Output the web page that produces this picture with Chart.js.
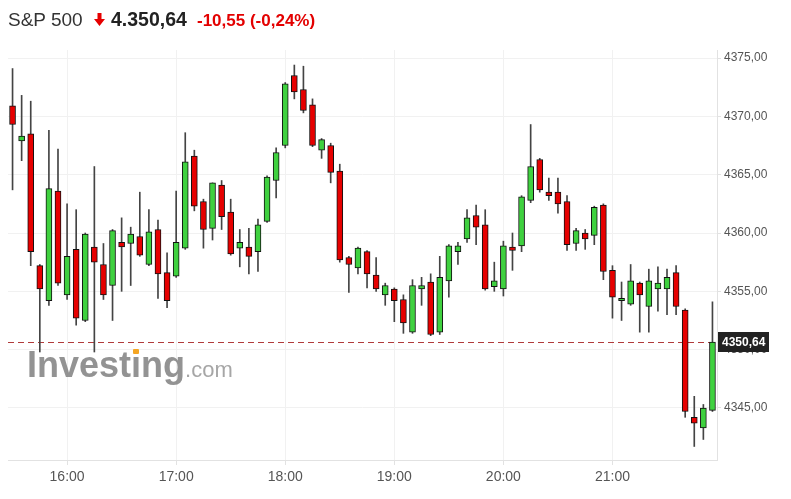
<!DOCTYPE html>
<html>
<head>
<meta charset="utf-8">
<script src="https://cdn.jsdelivr.net/npm/chart.js@4.4.1/dist/chart.umd.min.js"></script>
<style>
  html, body { margin: 0; padding: 0; background: #fff; }
  #wrap { position: relative; width: 791px; height: 499px; overflow: hidden; }
  canvas { position: absolute; left: 0; top: 0; }
  .hd { position: absolute; line-height: 1; white-space: nowrap; font-family: "Liberation Sans", Arial, sans-serif; }
  .wm { position: absolute; line-height: 1; white-space: nowrap; font-family: "Liberation Sans", Arial, sans-serif; pointer-events: none; }
</style>
</head>
<body>
<div id="wrap">
  <canvas id="c" width="791" height="499"></canvas>
  <div class="hd" style="left:8px; top:10px; font-size:19px; color:#333;">S&amp;P 500</div>
  <svg style="position:absolute; left:94px; top:13px;" width="11" height="13" viewBox="0 0 11 13">
    <polygon points="3.5,0 7.5,0 7.5,6 11,6 5.5,13 0,6 3.5,6" fill="#e60000"/>
  </svg>
  <div class="hd" style="left:111px; top:9.5px; font-size:19.5px; font-weight:bold; color:#222;">4.350,64</div>
  <div class="hd" style="left:197px; top:11.6px; font-size:17px; font-weight:bold; color:#e30000;">-10,55 (-0,24%)</div>
  <div class="wm" style="left:27px; top:347px;"><span style="font-size:36px; font-weight:bold; color:rgba(128,128,128,0.85);">Invest</span><span style="position:relative; font-size:36px; font-weight:bold; color:rgba(128,128,128,0.85);">ı<span style="position:absolute; left:50%; top:5px; width:6px; height:5px; margin-left:-3px; background:#f5a623; border-radius:1px;"></span></span><span style="font-size:36px; font-weight:bold; color:rgba(128,128,128,0.85);">ng</span><span style="font-size:22px; color:rgba(150,150,150,0.85);">.com</span></div>
</div>
<script>
// ---- Data (5-minute candles, S&P 500) ----
const times = [
  "15:30","15:35","15:40","15:45","15:50","15:55",
  "16:00","16:05","16:10","16:15","16:20","16:25","16:30","16:35","16:40","16:45","16:50","16:55",
  "17:00","17:05","17:10","17:15","17:20","17:25","17:30","17:35","17:40","17:45","17:50","17:55",
  "18:00","18:05","18:10","18:15","18:20","18:25","18:30","18:35","18:40","18:45","18:50","18:55",
  "19:00","19:05","19:10","19:15","19:20","19:25","19:30","19:35","19:40","19:45","19:50","19:55",
  "20:00","20:05","20:10","20:15","20:20","20:25","20:30","20:35","20:40","20:45","20:50","20:55",
  "21:00","21:05","21:10","21:15","21:20","21:25","21:30","21:35","21:40","21:45","21:50","21:55"
];
const opens = [
  4370.9,4367.9,4368.5,4357.2,4354.2,4363.6,4354.7,4358.6,4352.5,4358.8,
  4357.3,4355.5,4359.2,4359.1,4359.7,4357.3,4360.3,4356.6,4356.3,4358.7,
  4366.6,4362.7,4360.4,4364.1,4361.8,4358.7,4358.8,4358.4,4361.0,4364.5,
  4367.5,4373.5,4372.3,4371.0,4367.1,4367.5,4365.3,4357.9,4357.0,4358.4,
  4356.4,4354.7,4355.2,4354.3,4351.5,4355.2,4355.8,4351.5,4355.9,4358.4,
  4359.5,4361.5,4360.7,4355.4,4355.2,4358.8,4358.9,4362.8,4366.3,4363.5,
  4363.5,4362.7,4359.1,4360.0,4359.8,4362.4,4356.8,4354.2,4353.9,4355.7,
  4353.7,4355.2,4355.2,4356.6,4353.4,4344.2,4343.3,4344.8
];
const highs = [
  4374.1,4371.8,4371.3,4357.3,4368.8,4367.2,4362.5,4362.0,4360.0,4365.7,
  4359.1,4360.3,4361.3,4360.5,4363.5,4362.0,4361.1,4358.3,4363.6,4368.6,
  4367.1,4362.9,4364.3,4364.5,4362.9,4360.3,4360.4,4361.2,4364.9,4367.3,
  4372.9,4374.4,4374.3,4371.5,4368.1,4367.7,4365.9,4358.0,4358.8,4358.5,
  4357.9,4355.7,4355.3,4354.7,4356.0,4356.2,4356.5,4358.0,4359.0,4359.2,
  4362.0,4362.4,4362.0,4357.5,4359.3,4360.0,4363.2,4369.3,4366.4,4364.7,
  4364.7,4363.2,4360.4,4360.3,4362.3,4362.5,4357.2,4355.8,4357.3,4355.8,
  4356.9,4357.1,4356.9,4357.2,4353.5,4346.0,4345.3,4354.1
];
const lows = [
  4363.7,4366.2,4357.2,4349.8,4353.8,4355.5,4354.3,4352.1,4352.4,4349.8,
  4354.3,4352.5,4355.0,4355.5,4358.0,4357.2,4354.4,4353.6,4356.2,4358.6,
  4361.9,4358.7,4359.4,4360.3,4358.1,4357.1,4356.5,4356.7,4360.9,4363.0,
  4367.3,4371.5,4370.3,4367.4,4366.4,4364.3,4357.5,4354.9,4356.5,4355.3,
  4355.0,4353.8,4352.4,4351.4,4351.4,4353.8,4351.2,4351.3,4354.5,4357.3,
  4359.2,4359.0,4355.1,4355.0,4354.6,4356.8,4358.4,4362.6,4363.5,4362.8,
  4361.7,4358.5,4358.5,4358.6,4359.0,4356.0,4352.7,4352.5,4353.8,4351.5,
  4351.5,4353.3,4353.0,4353.0,4344.2,4341.7,4342.3,4344.7
];
const closes = [
  4369.3,4368.3,4358.4,4355.2,4363.8,4355.7,4358.0,4352.7,4359.9,4357.5,
  4354.7,4360.2,4358.8,4359.9,4358.1,4360.1,4356.5,4354.2,4359.2,4366.1,
  4362.3,4360.3,4364.3,4361.4,4358.2,4359.2,4358.0,4360.7,4364.8,4366.9,
  4372.8,4372.1,4370.5,4367.5,4368.0,4365.2,4357.7,4357.3,4358.7,4356.5,
  4355.2,4355.5,4354.2,4352.3,4355.5,4355.5,4351.3,4356.2,4358.9,4358.9,
  4361.3,4360.5,4355.2,4355.9,4358.9,4358.5,4363.1,4365.7,4363.7,4363.2,
  4362.5,4359.0,4360.2,4359.5,4362.2,4356.7,4354.5,4354.4,4355.9,4354.7,
  4355.9,4355.7,4356.2,4353.7,4344.7,4343.7,4345.0,4350.64
];
const yTickValues = [4345, 4350, 4355, 4360, 4365, 4370, 4375];
const lastPrice = 4350.64;
const lastPriceLabel = "4350,64";

// ---- Build datasets ----
const UP = '#3fd13f', DOWN = '#e60000';
const bodyData = opens.map((o, i) => [o, closes[i]]);
const wickData = lows.map((l, i) => [l, highs[i]]);
const bodyColors = opens.map((o, i) => closes[i] >= o ? UP : DOWN);

const fmt = v => Number(v).toFixed(2).replace('.', ',');

const overlay = {
  id: 'overlay',
  beforeDatasetsDraw(chart) {
    const { ctx, chartArea, scales } = chart;
    const y = Math.round(scales.y.getPixelForValue(lastPrice)) + 0.5;
    ctx.save();
    ctx.strokeStyle = '#b03a3a';
    ctx.lineWidth = 1;
    ctx.setLineDash([6, 4]);
    ctx.beginPath();
    ctx.moveTo(chartArea.left, y);
    ctx.lineTo(chartArea.right, y);
    ctx.stroke();
    ctx.restore();
  },
  afterDraw(chart) {
    const { ctx, chartArea, scales } = chart;
    const y = Math.round(scales.y.getPixelForValue(lastPrice));
    ctx.save();
    ctx.fillStyle = '#222';
    ctx.fillRect(chartArea.right + 1, y - 10, 51, 20);
    ctx.fillStyle = '#fff';
    ctx.font = 'bold 12px "Liberation Sans", Arial, sans-serif';
    ctx.textBaseline = 'middle';
    ctx.textAlign = 'left';
    ctx.fillText(lastPriceLabel, chartArea.right + 5, y + 0.5);
    ctx.restore();
  }
};

new Chart(document.getElementById('c'), {
  type: 'bar',
  data: {
    labels: times,
    datasets: [
      {
        label: 'wick',
        data: wickData,
        backgroundColor: '#444',
        borderWidth: 0,
        barThickness: 1,
        grouped: false,
        order: 2
      },
      {
        label: 'body',
        data: bodyData,
        backgroundColor: bodyColors,
        borderColor: '#111',
        borderWidth: 1,
        borderSkipped: false,
        barThickness: 6,
        grouped: false,
        order: 1
      }
    ]
  },
  options: {
    responsive: false,
    devicePixelRatio: 1,
    animation: false,
    events: [],
    layout: { padding: { top: 50, left: 8, right: 0, bottom: 0 } },
    plugins: { legend: { display: false }, tooltip: { enabled: false } },
    scales: {
      x: {
        type: 'category',
        offset: true,
        grid: { offset: false, color: '#f1f1f1', tickLength: 5, tickColor: '#e2e2e2' },
        border: { display: true, color: '#e2e2e2' },
        afterBuildTicks(scale) {
          scale.ticks = scale.ticks.filter(t => times[t.value].endsWith(':00'));
        },
        afterFit(scale) { scale.height = 39; },
        ticks: {
          autoSkip: false,
          maxRotation: 0,
          color: '#555',
          padding: 4,
          font: { family: '"Liberation Sans", Arial, sans-serif', size: 14 },
          callback(value) { return times[value]; }
        }
      },
      y: {
        position: 'right',
        min: 4340.54,
        max: 4375.69,
        grid: { color: '#f1f1f1', tickLength: 4, tickColor: '#e2e2e2' },
        border: { display: true, color: '#e2e2e2' },
        afterBuildTicks(scale) {
          scale.ticks = yTickValues.map(v => ({ value: v }));
        },
        afterFit(scale) { scale.width = 74; },
        ticks: {
          color: '#555',
          padding: 3,
          font: { family: '"Liberation Sans", Arial, sans-serif', size: 12 },
          callback(value) { return fmt(value); }
        }
      }
    }
  },
  plugins: [overlay]
});
</script>
</body>
</html>
